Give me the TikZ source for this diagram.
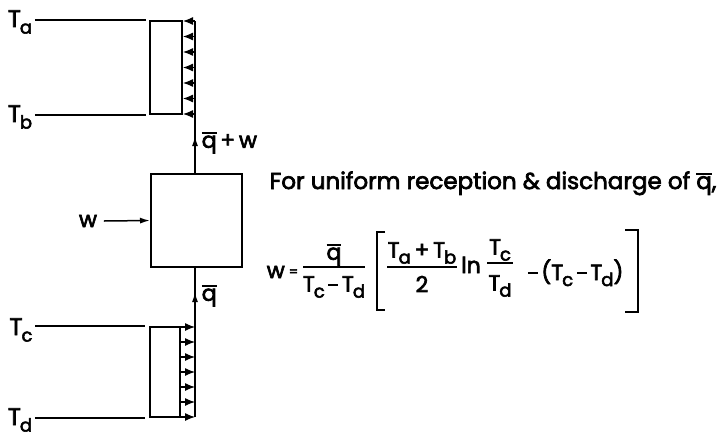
\documentclass[tikz,border=0pt]{standalone}
\usepackage{fontspec}
\usetikzlibrary{arrows.meta}
\newfontfamily\lett{Poppins}[FakeBold=3]
\newcommand\Tx[1]{T\kern-1pt\raisebox{-0.5ex}{\fontsize{18}{18}\selectfont #1}}
\newcommand\qbar{\setbox0\hbox{q}\leavevmode\rlap{\raisebox{1.12ex}{\rule{\wd0}{1.8pt}}}\box0}
\newcommand\mn{\raisebox{0.5ex}{\rule{0.45em}{2pt}}}
\begin{document}
\begin{tikzpicture}[x=1pt,y=-1pt,line width=1.5pt,
  lbl/.style={font=\lett\fontsize{24}{24}\selectfont, inner sep=0pt},
  eq/.style={font=\lett\fontsize{22}{22}\selectfont, inner sep=0pt},
  boxs/.style={draw, line width=2pt, inner sep=0pt},
  hd/.style={-{Latex[length=10pt,width=6pt]}},
  sm/.style={-{Latex[length=10pt,width=8pt]}, line width=1.2pt},
  bar/.style={line width=1.8pt}]
\useasboundingbox (0,0) rectangle (728,437);
% boxes
\node[boxs, minimum width=32pt, minimum height=93pt] (top) at (166,67.5) {};
\node[boxs, minimum width=30pt, minimum height=90pt] (bot) at (165,372) {};
\node[boxs, minimum width=91pt, minimum height=93pt] (eng) at (196.5,220.5) {};
\coordinate (ct) at (195,21);
\coordinate (cb) at (195,417);
% vertical heat line
\draw (eng.north -| ct) -- (ct);
\draw[hd] (eng.north -| ct) -- ++(0,-37);
\draw (eng.south -| cb) -- (cb);
\draw[hd] (cb) -- ++(0,-125);
% small arrows
\foreach \i in {0,...,6} \draw[sm] (195,21+15.5*\i) -- (top.east |- {(0,21+15.5*\i)});
\foreach \i in {0,...,6} \draw[sm] (bot.east |- {(0,327+15*\i)}) -- (195,327+15*\i);
% stream labels and lines
\node[lbl] (Ta) at (20,22) {\Tx{a}};
\node[lbl] (Tb) at (20,117) {\Tx{b}};
\node[lbl] (Tc) at (21,330) {\Tx{c}};
\node[lbl] (Td) at (20,420) {\Tx{d}};
\draw ([xshift=2pt]Ta.east |- top.north) -- ([xshift=-3pt]top.north west);
\draw ([xshift=2pt]Tb.east |- top.south) -- ([xshift=-3pt]top.south west);
\draw ([xshift=2pt]Tc.east |- bot.north) -- ([xshift=-4pt]bot.north west);
\draw ([xshift=2pt]Td.east |- bot.south) -- ([xshift=-4pt]bot.south west);
% work input
\node[eq] (win) at (88,221) {w};
\draw[hd] ([xshift=6pt]win.east) -- (eng.west);
\node[eq, anchor=west] (qw) at (201,143) {\qbar\,+\,w};
\node[eq, anchor=west] (ql) at (201,296) {\qbar};
% text
\node[eq, font=\lett\fontsize{23}{23}\selectfont, anchor=base west] (txt) at (269,189) {For uniform reception \& discharge of \qbar,};
% equation
\node[eq, anchor=base west] (w) at (266,278) {w};
\node[eq, anchor=base west] (eqs) at (288,276) {\fontsize{13}{13}\selectfont =};
\node[eq] (n1) at (334,255) {\qbar};
\draw[bar] (303,267) -- (365,267);
\node[eq] (d1) at (334,287) {\Tx{c}\,\mn\,\Tx{d}};
\draw[line width=2pt] (385,232) -- (377,232) -- (377,310) -- (385,310);
\node[eq] (n2) at (422,253) {\Tx{a}\,+\,\Tx{b}};
\draw[bar] (387,267) -- (457,267);
\node[eq] (d2) at (422,284) {2};
\node[eq, anchor=base] (ln) at (471,273) {ln};
\node[eq] (n3) at (500,250) {\Tx{c}};
\draw[bar] (487,263) -- (513,263);
\node[eq] (d3) at (500,286) {\Tx{d}};
\node[eq, anchor=base west] (rest) at (527,280) {\mn\,(\Tx{c}\,\mn\,\Tx{d})};
\draw[line width=2pt] (625,230) -- (638,230) -- (638,312) -- (625,312);
\end{tikzpicture}
\end{document}
